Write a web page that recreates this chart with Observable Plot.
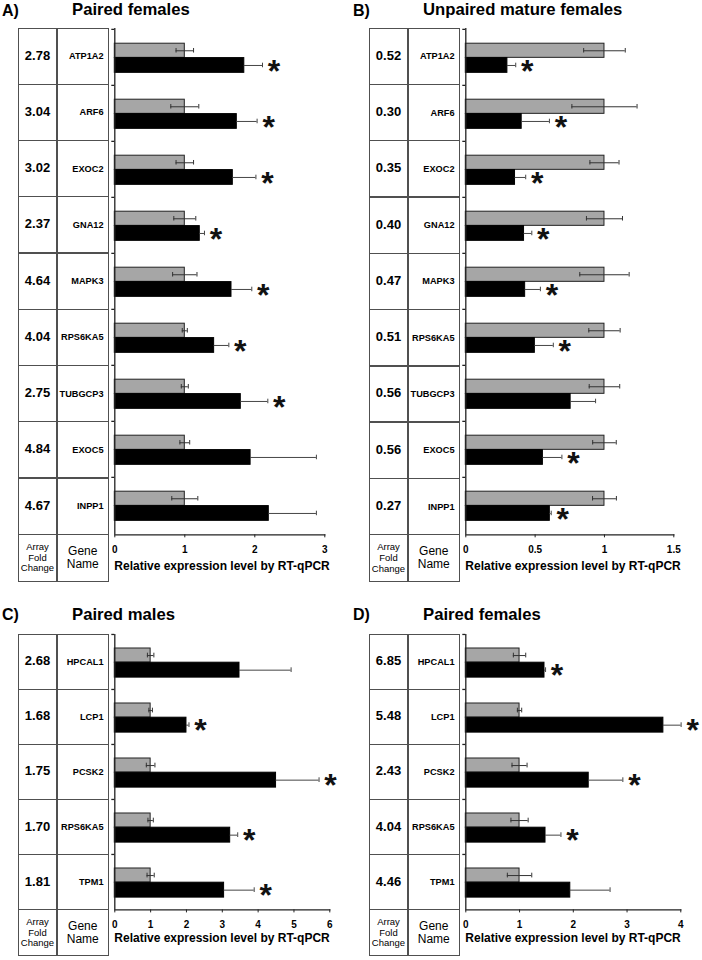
<!DOCTYPE html>
<html><head><meta charset="utf-8">
<script src="https://cdn.jsdelivr.net/npm/d3@7"></script>
<script src="https://cdn.jsdelivr.net/npm/@observablehq/plot@0.6"></script>
<style>
body{margin:0;background:#fff;font-family:"Liberation Sans",Arial,sans-serif;}
#root{position:relative;width:702px;height:960px;overflow:hidden;background:#fff;}
</style></head><body><div id="root"></div>
<script>
// ---------- DATA ----------
const genesAB = ["ATP1A2","ARF6","EXOC2","GNA12","MAPK3","RPS6KA5","TUBGCP3","EXOC5","INPP1"];
const genesCD = ["HPCAL1","LCP1","PCSK2","RPS6KA5","TPM1"];

const foldA = ["2.78","3.04","3.02","2.37","4.64","4.04","2.75","4.84","4.67"];
const ctrlA = [1,1,1,1,1,1,1,1,1];
const ctrlErrA = [0.125,0.2,0.125,0.157,0.174,0.036,0.05,0.07,0.186];
const expA = [1.85,1.743,1.686,1.214,1.667,1.419,1.8,1.94,2.2];
const expErrA = [0.26,0.29,0.33,0.067,0.29,0.21,0.386,0.94,0.68];
const sigA = [1,1,1,1,1,1,1,0,0];

const foldB = ["0.52","0.30","0.35","0.40","0.47","0.51","0.56","0.56","0.27"];
const ctrlB = [1,1,1,1,1,1,1,1,1];
const ctrlErrB = [0.15,0.235,0.105,0.13,0.178,0.113,0.11,0.085,0.086];
const expB = [0.30,0.403,0.355,0.42,0.428,0.498,0.756,0.556,0.606];
const expErrB = [0.06,0.2,0.077,0.056,0.11,0.133,0.18,0.137,0.01];
const sigB = [1,1,1,1,1,1,0,1,1];

const foldC = ["2.68","1.68","1.75","1.70","1.81"];
const ctrlC = [1,1,1,1,1];
const ctrlErrC = [0.09,0.05,0.12,0.075,0.1];
const expC = [3.48,2.0,4.5,3.22,3.05];
const expErrC = [1.44,0.07,1.2,0.21,0.84];
const sigC = [0,1,1,1,1];

const foldD = ["6.85","5.48","2.43","4.04","4.46"];
const ctrlD = [1,1,1,1,1];
const ctrlErrD = [0.115,0.04,0.14,0.16,0.227];
const expD = [1.464,3.676,2.287,1.483,1.944];
const expErrD = [0.02,0.33,0.635,0.287,0.74];
const sigD = [1,1,1,1,0];

const xTicksA = [0,1,2,3];
const xTicksB = [0,0.5,1,1.5];
const xTicksC = [0,1,2,3,4,5,6];
const xTicksD = [0,1,2,3,4];

const letters = ["A)","B)","C)","D)"];
const titles = ["Paired females","Unpaired mature females","Paired males","Paired females"];
const xLabel = "Relative expression level by RT-qPCR";
const colHead1 = ["Array","Fold","Change"];
const colHead2 = ["Gene","Name"];

// ---------- LAYOUT ----------
const FONT = "'Liberation Sans', Arial, sans-serif";
const panels = [
  {letter:letters[0], title:titles[0], genes:genesAB, fold:foldA, ctrl:ctrlA, ctrlErr:ctrlErrA, exp:expA, expErr:expErrA, sig:sigA, ticks:xTicksA, domain:[0,3],
   ox:0, titleY:10.5, tableTop:28, rowH:56.26, labelH:47.4, rangeW:210, g0:14.2, g1:28.6, b1:43.6, labY:31.4},
  {letter:letters[1], title:titles[1], genes:genesAB, fold:foldB, ctrl:ctrlB, ctrlErr:ctrlErrB, exp:expB, expErr:expErrB, sig:sigB, ticks:xTicksB, domain:[0,1.5],
   ox:351, titleY:10.5, tableTop:28.3, rowH:56.26, labelH:47.4, rangeW:208, g0:14.2, g1:28.6, b1:43.6, labY:31.4},
  {letter:letters[2], title:titles[2], genes:genesCD, fold:foldC, ctrl:ctrlC, ctrlErr:ctrlErrC, exp:expC, expErr:expErrC, sig:sigC, ticks:xTicksC, domain:[0,6],
   ox:0, titleY:615, tableTop:634.3, rowH:55.08, labelH:46.6, rangeW:215, g0:14, g1:28.2, b1:43.2, labY:28.6},
  {letter:letters[3], title:titles[3], genes:genesCD, fold:foldD, ctrl:ctrlD, ctrlErr:ctrlErrD, exp:expD, expErr:expErrD, sig:sigD, ticks:xTicksD, domain:[0,4],
   ox:351, titleY:615, tableTop:634.3, rowH:55.08, labelH:46.6, rangeW:215, g0:14, g1:28.2, b1:43.2, labY:28.6}
];

const root = document.getElementById("root");
function addDiv(styles, html) {
  const d = document.createElement("div");
  d.style.position = "absolute";
  for (const k in styles) d.style[k] = styles[k];
  if (html != null) d.innerHTML = html;
  root.appendChild(d);
  return d;
}
const px = v => v + "px";

function drawPanel(p) {
  const n = p.genes.length;
  const L = p.ox + 18, T = p.tableTop, W1 = 39, W2 = 51.5;
  const bc = "#505050", bw = 1.3;
  addDiv({left:px(p.ox+2), top:px(p.titleY-7.8), font:`bold 16px ${FONT}`, lineHeight:"16px", whiteSpace:"nowrap"}, p.letter);
  addDiv({left:px(p.ox+72), top:px(p.titleY-8.1), font:`bold 16.7px ${FONT}`, lineHeight:"16px", whiteSpace:"nowrap"}, p.title);

  const totalH = n*p.rowH + p.labelH;
  addDiv({left:px(L), top:px(T), width:px(W1+W2), height:px(totalH), border:`${bw}px solid ${bc}`, boxSizing:"border-box"});
  addDiv({left:px(L+W1-bw/2), top:px(T), width:px(bw), height:px(totalH), background:bc});
  for (let i = 1; i <= n; i++)
    addDiv({left:px(L), top:px(T+i*p.rowH-bw/2), width:px(W1+W2), height:px(bw), background:bc});

  p.genes.forEach((g, i) => {
    addDiv({left:px(L), top:px(T+i*p.rowH), width:px(W1), height:px(p.rowH), display:"flex", alignItems:"center", justifyContent:"center",
            font:`bold 13px ${FONT}`, paddingBottom:"2px", boxSizing:"border-box"}, p.fold[i]);
    addDiv({left:px(L+W1), top:px(T+i*p.rowH), width:px(W2-5), height:px(p.rowH), display:"flex", alignItems:"center", justifyContent:"flex-end",
            font:`bold 9.2px ${FONT}`, whiteSpace:"nowrap"}, g);
  });
  const LT = T + n*p.rowH;
  addDiv({left:px(L), top:px(LT), width:px(W1), height:px(p.labelH), display:"flex", alignItems:"center", justifyContent:"center", textAlign:"center",
          font:`9.5px ${FONT}`, lineHeight:"10.8px"}, colHead1.join("<br>"));
  addDiv({left:px(L+W1), top:px(LT), width:px(W2), height:px(p.labelH), display:"flex", alignItems:"center", justifyContent:"center", textAlign:"center",
          font:`12px ${FONT}`, lineHeight:"13.3px"}, colHead2.join("<br>"));
  // x axis title
  addDiv({left:px(p.ox+114.3), top:px(LT + p.labY - 7), font:`bold 12px ${FONT}`, lineHeight:"14px", whiteSpace:"nowrap"}, xLabel);

  // ----- chart -----
  const data = p.genes.map((g, i) => ({gene:g, c:p.ctrl[i], ce:p.ctrlErr[i], t:p.exp[i], te:p.expErr[i], sig:p.sig[i]}));
  const caps = data.flatMap(d => [{gene:d.gene, x:d.c-d.ce}, {gene:d.gene, x:d.c+d.ce}]);
  const rowH = p.rowH, mid = rowH/2;
  const grayC = (p.g0+p.g1)/2, blackC = (p.g1+p.b1)/2, capH = 2.4;
  const W = 250, mL = 14.3, mB = 30, mT = 2;
  const chart = Plot.plot({
    width: W, height: mT + n*rowH + mB,
    marginTop: mT, marginBottom: mB, marginLeft: mL, marginRight: W - mL - p.rangeW,
    style: {fontFamily: FONT, fontSize: "10px", color: "#000", background: "transparent", overflow: "visible"},
    x: {domain: p.domain, label: null},
    y: {domain: p.genes, padding: 0, axis: null, label: null},
    marks: [
      Plot.barX(data, {x: "c", y: "gene", fill: "#a6a6a6", stroke: "#222", strokeWidth: 1, insetTop: p.g0, insetBottom: rowH - p.g1}),
      Plot.barX(data, {x: "t", y: "gene", fill: "#000", stroke: "#000", strokeWidth: 1, insetTop: p.g1, insetBottom: rowH - p.b1}),
      Plot.ruleY(data, {y: "gene", x1: d => d.c - d.ce, x2: d => d.c + d.ce, dy: grayC - mid, stroke: "#333", strokeWidth: 1}),
      Plot.tickX(caps, {x: "x", y: "gene", insetTop: grayC - capH, insetBottom: rowH - grayC - capH, stroke: "#333", strokeWidth: 1}),
      Plot.ruleY(data, {y: "gene", x1: "t", x2: d => d.t + d.te, dy: blackC - mid, stroke: "#444", strokeWidth: 1}),
      Plot.tickX(data, {x: d => d.t + d.te, y: "gene", insetTop: blackC - capH, insetBottom: rowH - blackC - capH, stroke: "#444", strokeWidth: 1}),
      Plot.text(data.filter(d => d.sig), {x: d => d.t + d.te, y: "gene", text: () => "*", dx: 11.5, dy: blackC - mid + 6, fontSize: 32, fontWeight: "bold", fill: "#111"}),
      Plot.ruleX([0], {stroke: "#222", strokeWidth: 1.3}),
      Plot.frame({anchor: "bottom", stroke: "#222", strokeWidth: 1.3}),
      Plot.axisY({ticks: p.genes, tickSize: 3, tickFormat: () => "", label: null, dy: -mid, stroke: "#222", strokeWidth: 1.3}),
      Plot.axisX({ticks: p.ticks, tickSize: 3, tickPadding: 8, tickFormat: d => String(d), fontWeight: "bold", fontSize: 10, label: null, stroke: "#222"})
    ]
  });
  chart.style.position = "absolute";
  chart.style.left = px(p.ox + 100);
  chart.style.top = px(T - mT);
  root.appendChild(chart);
}
panels.forEach(drawPanel);
</script>
</body></html>
